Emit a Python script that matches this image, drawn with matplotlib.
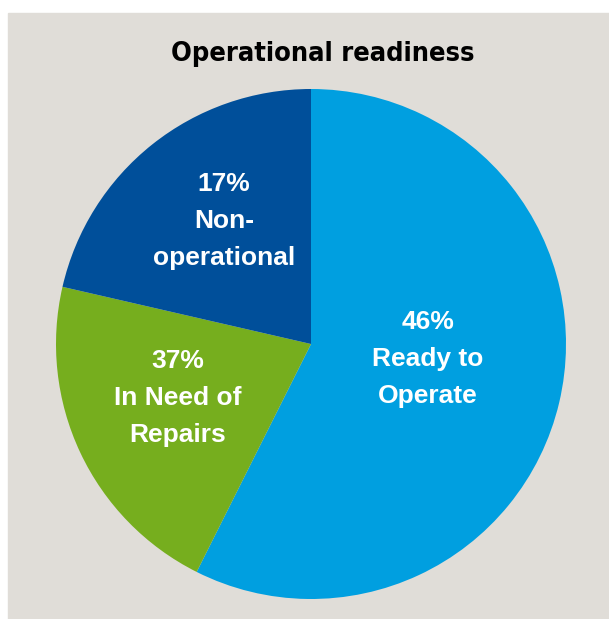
import matplotlib
matplotlib.use("Agg")
import matplotlib.pyplot as plt
from matplotlib.patches import Rectangle

# slice sizes as drawn (degrees share), printed labels as in the source
categories = ["Ready to\nOperate", "In Need of\nRepairs", "Non-\noperational"]
drawn_share = [57.4, 21.2, 21.4]
pct_labels = ["46%", "37%", "17%"]
colors = ["#009fe0", "#76ae1e", "#004f9a"]

W, H = 609, 619
fig = plt.figure(figsize=(W / 100, H / 100), dpi=100)
fig.patch.set_facecolor("white")
ax = fig.add_axes([0, 0, 1, 1])

# grey panel
ax.add_patch(Rectangle((8, 0), W - 8, H - 13, color="#e0ddd8", zorder=0))

cx, cy, r = 311, H - 344, 255
ax.pie(drawn_share, colors=colors, startangle=90, counterclock=False,
       center=(cx, cy), radius=r, frame=True,
       wedgeprops=dict(linewidth=0))
ax.set_xlim(0, W)
ax.set_ylim(0, H)
ax.set_aspect("equal")
ax.axis("off")

ax.text(323, H - 54, "Operational readiness", ha="center", va="center",
        fontsize=19.5, fontweight="heavy", fontstretch="condensed",
        family="DejaVu Sans", color="black")

label_pos = [(428, H - 359), (178, H - 398), (224, H - 221)]
for (x, y), pct, name in zip(label_pos, pct_labels, categories):
    ax.text(x, y, pct + "\n" + name, ha="center", va="center", color="white",
            fontsize=19, fontweight="bold", linespacing=1.68,
            family=["Liberation Sans", "DejaVu Sans"])

fig.savefig("out.png", dpi=100, facecolor=fig.get_facecolor())
